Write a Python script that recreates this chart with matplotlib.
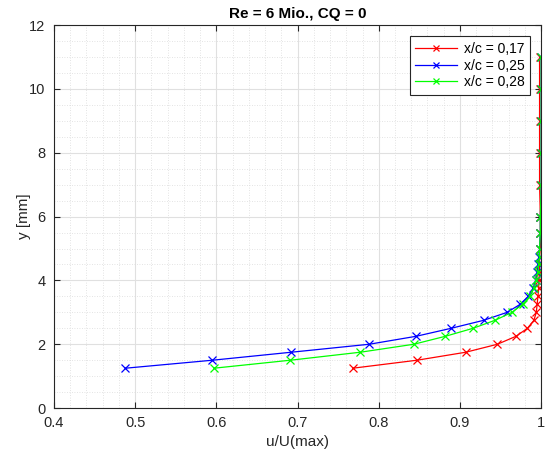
import numpy as np
import matplotlib.pyplot as plt
from matplotlib.ticker import MultipleLocator

plt.rcParams['font.family'] = ['Liberation Sans', 'DejaVu Sans']

# wall-normal positions [mm]
y = [1.25, 1.5, 1.75, 2.0, 2.25, 2.5, 2.75, 3.0, 3.25, 3.5, 3.75, 4.0,
     4.25, 4.5, 4.75, 5.0, 5.5, 6.0, 7.0, 8.0, 9.0, 10.0, 11.0]

# u/U(max) for each station
u_017 = [0.768, 0.847, 0.907, 0.946, 0.969, 0.983, 0.991, 0.994, 0.995, 0.996,
         0.997, 0.997, 0.998, 0.998, 0.998, 0.999, 0.999, 0.999, 0.998, 0.998,
         0.998, 0.998, 0.998]
u_025 = [0.488, 0.595, 0.692, 0.788, 0.846, 0.889, 0.929, 0.958, 0.974, 0.984,
         0.990, 0.993, 0.995, 0.996, 0.997, 0.998, 0.999, 0.999, 1.0, 1.0,
         1.0, 1.0, 1.0]
u_028 = [0.597, 0.691, 0.777, 0.843, 0.882, 0.916, 0.943, 0.964, 0.977, 0.986,
         0.991, 0.994, 0.996, 0.997, 0.998, 0.998, 0.999, 0.999, 1.0, 1.0,
         1.0, 1.0, 1.0]

labels = ['x/c = 0,17', 'x/c = 0,25', 'x/c = 0,28']
colors = ['#ff0000', '#0000ff', '#00ff00']

fig = plt.figure(figsize=(5.45, 4.57), dpi=100)
ax = fig.add_axes([0.099, 0.107, 0.894, 0.838])

for u, lab, c in zip([u_017, u_025, u_028], labels, colors):
    ax.plot(u, y, color=c, lw=0.9, marker='x', ms=5.5, mew=0.9, label=lab)

ax.set_xlim(0.4, 1.0)
ax.set_ylim(0, 12)
ax.set_xticks([0.4, 0.5, 0.6, 0.7, 0.8, 0.9, 1.0])
ax.set_xticklabels(['0.4', '0.5', '0.6', '0.7', '0.8', '0.9', '1'])
ax.xaxis.set_minor_locator(MultipleLocator(0.02))
ax.yaxis.set_major_locator(MultipleLocator(2))
ax.yaxis.set_minor_locator(MultipleLocator(0.5))

ax.grid(which='major', color='#e0e0e0', lw=0.8)
ax.grid(which='minor', color='#dadada', lw=0.6, ls=(0, (1, 2)))
ax.set_axisbelow(True)
ax.tick_params(which='both', direction='in', colors='#262626', labelsize=10.5)
ax.tick_params(which='minor', length=0)
ax.tick_params(which='major', length=4, top=True, right=True)
ax.tick_params(axis='x', pad=6)
ax.tick_params(axis='y', pad=6)
for s in ax.spines.values():
    s.set_color('#262626')
    s.set_linewidth(0.8)

ax.set_xlabel('u/U(max)', fontsize=11, color='#262626', labelpad=3)
ax.set_ylabel('y [mm]', fontsize=11, color='#262626', labelpad=-1)
ax.set_title('Re = 6 Mio., CQ = 0', fontsize=11, fontweight='bold', pad=5)

leg = ax.legend(loc='upper right', fontsize=10, fancybox=False,
                edgecolor='#262626', framealpha=1, borderaxespad=0.8,
                handlelength=3.0, labelspacing=0.2, borderpad=0.4,
                handletextpad=0.5, markerscale=0.8)
leg.get_frame().set_linewidth(0.8)

fig.savefig('out.png', dpi=100)
